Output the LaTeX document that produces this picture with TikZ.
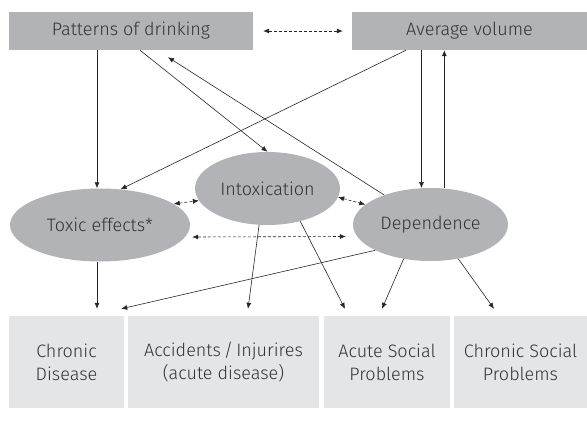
\documentclass[tikz,border=0pt]{standalone}
\usepackage{fontspec}
\setmainfont{Fira Sans Light}
\usetikzlibrary{shapes.geometric,arrows.meta}
\definecolor{blobgray}{HTML}{B2B3B7}
\definecolor{boxgray}{HTML}{E4E5E7}
\definecolor{inkgray}{HTML}{333333}
\begin{document}
\begin{tikzpicture}[x=1pt,y=-1pt,
    >={Latex[length=6pt,width=5pt]},
    head/.style={fill=blobgray,inner sep=0,minimum height=38pt,text=inkgray,font=\fontsize{18}{20}\selectfont},
    blob/.style={ellipse,fill=blobgray,inner sep=0,minimum height=73pt,text=inkgray,font=\fontsize{18}{20}\selectfont},
    outcome/.style={fill=boxgray,inner sep=0,minimum height=92pt,align=center,text=inkgray,font=\fontsize{18}{23}\selectfont},
    move/.style={->,draw,line width=0.6pt,black!85},
    link/.style={<->,draw,line width=0.6pt,black!85,dash pattern=on 3pt off 2pt}]

    \useasboundingbox (0,0) rectangle (587,426);

    \node[head,minimum width=244pt] (pat) at (131,31) {Patterns of drinking};
    \node[head,minimum width=235pt] (avg) at (469.5,31) {Average volume};
    \node[blob,minimum width=180pt] (tox) at (100,225) {Toxic effects*};
    \node[blob,minimum width=145pt] (intox) at (267.5,188.5) {Intoxication};
    \node[blob,minimum width=155pt] (dep) at (430.5,224.5) {Dependence};
    \node[outcome,minimum width=115pt] (cd) at (66.5,362) {Chronic\\Disease};
    \node[outcome,minimum width=191pt] (acc) at (223.5,362) {Accidents\,/\,Injurires\\(acute disease)};
    \node[outcome,minimum width=126pt] (asp) at (387,362) {Acute Social\\Problems};
    \node[outcome,minimum width=133pt] (csp) at (520.5,362) {Chronic Social\\Problems};

    \path[link] ([xshift=10pt]pat.east) -- ([xshift=-9pt]avg.west);
    \path[link] (tox.16) -- (intox.190);
    \path[link] (intox.353) -- (dep.163);
    \path[link] ([xshift=2pt,yshift=-12pt]tox.east) -- ([xshift=-7pt,yshift=-12pt]dep.west);

    \path[move] ([xshift=-34pt]pat.south) -- ([xshift=-3pt]tox.north);
    \path[move] ([xshift=9pt]pat.south) -- (intox.north);
    \path[move] (dep) -- ([xshift=37pt,yshift=-7pt]pat.south);
    \path[move] ([xshift=-63.5pt]avg.south) -- (tox.60);
    \path[move] (dep.104 |- avg.south) -- (dep.104);
    \path[move] (dep.69) -- (dep.69 |- avg.south);

    \path[move] ([xshift=-3pt]tox.south) -- ([xshift=30.5pt,yshift=7pt]cd.north);
    \path[move] (dep.205) -- ([xshift=-3pt,yshift=7pt]cd.north east);
    \path[move] (intox.257) -- ([xshift=24.5pt,yshift=7pt]acc.north);
    \path[move] (intox.315) -- ([xshift=-42pt,yshift=7pt]asp.north);
    \path[move] (dep.232) -- ([xshift=-5pt,yshift=7pt]asp.north);
    \path[move] (dep.309) -- ([xshift=-26.5pt,yshift=7pt]csp.north);
\end{tikzpicture}
\end{document}
